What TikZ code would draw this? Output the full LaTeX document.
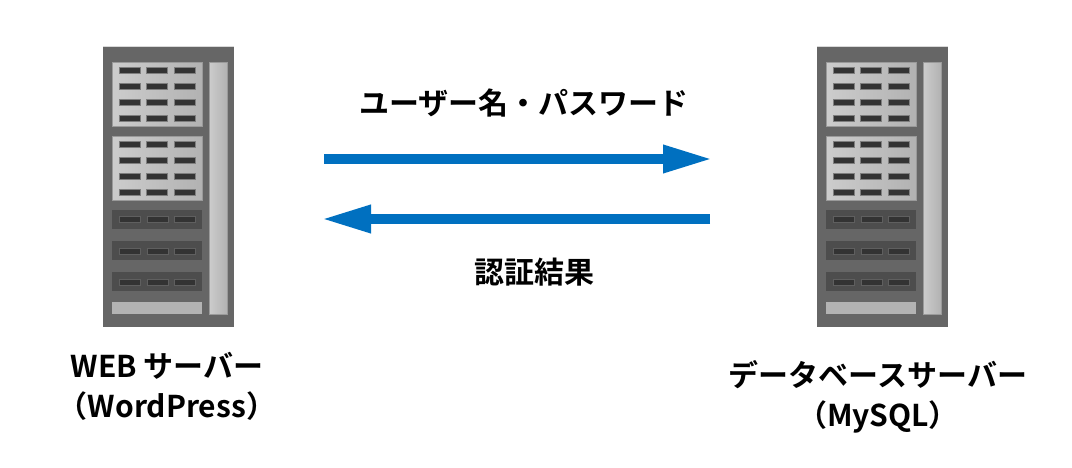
\documentclass[tikz,border=0pt]{standalone}
\usepackage{fontspec}
\setmainfont{Noto Sans CJK JP}[BoldFont={Noto Sans CJK JP Bold}]
\usetikzlibrary{arrows.meta}
\definecolor{towerbody}{HTML}{666666}
\definecolor{vent}{HTML}{CCCCCC}
\definecolor{ventb}{HTML}{B2B2B2}
\definecolor{ventedge}{HTML}{9A9A9A}
\definecolor{band}{HTML}{4D4D4D}
\definecolor{slot}{HTML}{333333}
\definecolor{slotedge}{HTML}{7F7F7F}
\definecolor{bandedge}{HTML}{5F5F5F}
\definecolor{baseplate}{HTML}{B3B3B3}
\definecolor{arrowblue}{HTML}{0070C0}
\tikzset{
  vpanel/.style={left color=vent,right color=ventb,draw=ventedge,line width=.6pt},
  hslot/.style={fill=slot,draw=slotedge,line width=1pt},
  bslot/.style={fill=slot,draw=bandedge,line width=1pt},
  bigarrow/.style={draw=arrowblue,line width=9.5pt,shorten >=-2.5pt,-{Triangle[length=49.5pt,width=26pt,fill=arrowblue]}},
  label/.style={font=\fontsize{30}{40}\selectfont\bfseries,align=center,text=black,inner sep=0pt},
  pics/rack/.style={code={
    \fill[towerbody] (0,-.5) rectangle (131,279.7);
    \draw[white!75!towerbody,line width=.6pt] (0,-.5) -- (131,-.5);
    % side bar
    \path[vpanel] (106,15.5) rectangle (124,267);
    % vent panels
    \foreach \py in {15.5,89.5}{
      \path[vpanel] (9,\py) rectangle (99,{\py+64});
      \foreach \sy in {8,24,40,56}
        \foreach \sx in {16,43.5,71}
          \path[hslot] (\sx,{\py+\sy-3.2}) rectangle ++(21,6.4);
    }
    % dark bands
    \foreach \by in {163,194,225}{
      \fill[band] (9,\by) rectangle (99,{\by+19});
      \foreach \sx in {16.5,44,71.5}
        \path[bslot] (\sx,{\by+7}) rectangle ++(21,6);
    }
    % base plate
    \fill[baseplate] (9,255) rectangle (99,267);
  }}
}
\begin{document}
\begin{tikzpicture}[x=1pt,y=-1pt]
\useasboundingbox (0,0) rectangle (1072,468);
\pic (webrack) at (103,47) {rack};
\pic (dbrack) at (817,47) {rack};
\coordinate (topL) at (324,159);
\coordinate (topR) at (710,159);
\coordinate (botR) at (710,219);
\coordinate (botL) at (324,219);
\draw[bigarrow] (topL) -- (topR);
\draw[bigarrow] (botR) -- (botL);
\node[label] (creds) at (524,103) {ユーザー名・パスワード};
\node[label] (result) at (534.5,272) {認証結果};
\node[label] (web) at (167,386.5) {WEB サーバー\\（WordPress）};
\node[label] (db) at (878,396.5) {データベースサーバー\\（MySQL）};
\end{tikzpicture}
\end{document}
